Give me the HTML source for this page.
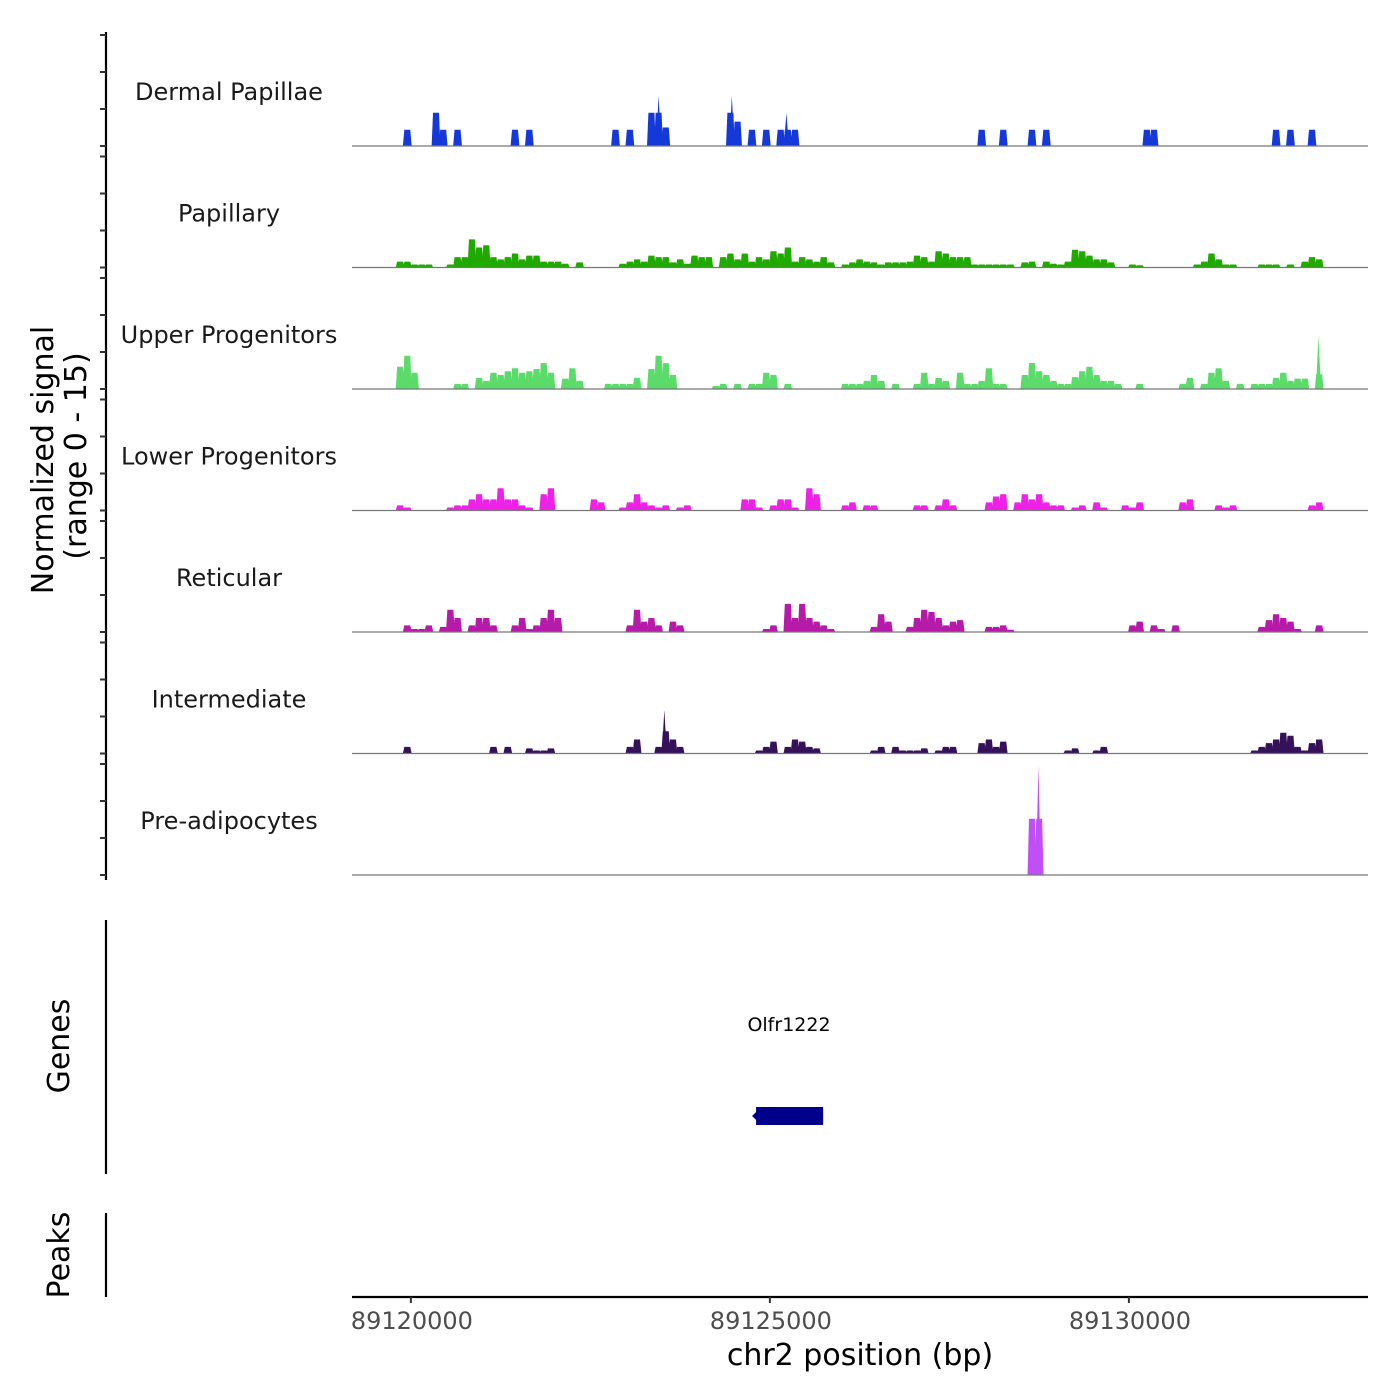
<!DOCTYPE html>
<html><head><meta charset="utf-8">
<style>
html,body{margin:0;padding:0;background:#fff;}
svg{display:block;font-family:"DejaVu Sans","Liberation Sans",sans-serif;}
</style></head>
<body>
<svg id="chart" width="1400" height="1400" viewBox="0 0 1400 1400" xmlns="http://www.w3.org/2000/svg">
<rect x="0" y="0" width="1400" height="1400" fill="#fff"/>
<g id="tracks"></g>
<g id="yaxis"></g>
<text transform="translate(53,460) rotate(-90)" text-anchor="middle" font-size="30" fill="#000">Normalized signal</text>
<text transform="translate(86,456) rotate(-90)" text-anchor="middle" font-size="30" fill="#000">(range 0 - 15)</text>
<line x1="106" y1="920" x2="106" y2="1174" stroke="#000" stroke-width="2.2"/>
<text transform="translate(69,1046) rotate(-90)" text-anchor="middle" font-size="30" fill="#000">Genes</text>
<line x1="106" y1="1213" x2="106" y2="1297" stroke="#000" stroke-width="2.2"/>
<text transform="translate(69,1255) rotate(-90)" text-anchor="middle" font-size="30" fill="#000">Peaks</text>
<g id="genes"></g>
<g id="xaxis"></g>
<text x="860" y="1365" text-anchor="middle" font-size="30" fill="#000">chr2 position (bp)</text>
</svg>
<script>
const NS = "http://www.w3.org/2000/svg";
const trackNames = ["Dermal Papillae","Papillary","Upper Progenitors","Lower Progenitors","Reticular","Intermediate","Pre-adipocytes"];
const trackColors = ["#1539d9","#20aa00","#5bdc6a","#ee22e6","#b51aa8","#35115a","#c050f5"];
const binSize = 100;
// [bin start bp, signal value]
const dermalPapillae = [[89119900,2.2],[89120300,4.5],[89120400,2.2],[89120600,2.2],[89121400,2.2],[89121600,2.2],[89122800,2.2],[89123000,2.2],[89123300,4.5],[89123400,4.5],[89123500,2.5],[89124400,4.5],[89124500,3.3],[89124700,2.2],[89124900,2.2],[89125100,2.2],[89125200,2.2],[89125300,2.2],[89127900,2.2],[89128200,2.2],[89128600,2.2],[89128800,2.2],[89130200,2.2],[89130300,2.2],[89132000,2.2],[89132200,2.2],[89132500,2.2]];
const papillary = [[89119800,0.8],[89119900,0.8],[89120000,0.4],[89120100,0.4],[89120200,0.4],[89120500,0.4],[89120600,1.4],[89120700,1.4],[89120800,3.8],[89120900,2.7],[89121000,3.0],[89121100,1.4],[89121200,1.1],[89121300,1.4],[89121400,1.9],[89121500,1.1],[89121600,1.6],[89121700,1.6],[89121800,0.8],[89121900,0.8],[89122000,0.8],[89122100,0.5],[89122300,0.7],[89122900,0.5],[89123000,0.8],[89123100,1.1],[89123200,0.8],[89123300,1.6],[89123400,1.4],[89123500,1.4],[89123600,0.7],[89123700,1.1],[89123800,0.5],[89123900,1.6],[89124000,1.4],[89124100,1.4],[89124300,1.4],[89124400,1.9],[89124500,1.1],[89124600,1.9],[89124700,0.8],[89124800,1.4],[89124900,1.1],[89125000,2.2],[89125100,1.9],[89125200,2.7],[89125300,0.8],[89125400,1.4],[89125500,1.1],[89125600,0.8],[89125700,1.4],[89125800,0.7],[89126000,0.4],[89126100,0.7],[89126200,1.1],[89126300,0.8],[89126400,0.7],[89126500,0.4],[89126600,0.7],[89126700,0.7],[89126800,0.7],[89126900,0.8],[89127000,1.6],[89127100,1.4],[89127200,0.8],[89127300,2.2],[89127400,1.9],[89127500,1.4],[89127600,1.4],[89127700,1.4],[89127800,0.4],[89127900,0.4],[89128000,0.4],[89128100,0.4],[89128200,0.4],[89128300,0.4],[89128500,0.7],[89128600,0.8],[89128800,0.8],[89128900,0.5],[89129000,0.4],[89129100,0.8],[89129200,2.4],[89129300,2.2],[89129400,1.6],[89129500,1.1],[89129600,1.1],[89129700,0.7],[89130000,0.4],[89130100,0.3],[89130900,0.4],[89131000,0.8],[89131100,1.9],[89131200,1.1],[89131300,0.4],[89131400,0.4],[89131800,0.4],[89131900,0.4],[89132000,0.4],[89132200,0.4],[89132400,0.8],[89132500,1.4],[89132600,1.1]];
const upperProgenitors = [[89119800,3.0],[89119900,4.5],[89120000,2.2],[89120600,0.7],[89120700,0.7],[89120900,1.5],[89121000,1.1],[89121100,2.2],[89121200,1.9],[89121300,2.4],[89121400,2.8],[89121500,2.2],[89121600,2.4],[89121700,2.7],[89121800,3.5],[89121900,2.2],[89122100,1.4],[89122200,2.8],[89122300,1.1],[89122700,0.7],[89122800,0.7],[89122900,0.7],[89123000,0.7],[89123100,1.5],[89123300,2.7],[89123400,4.5],[89123500,3.5],[89123600,1.9],[89124200,0.4],[89124300,0.7],[89124500,0.7],[89124700,0.7],[89124800,0.7],[89124900,2.2],[89125000,1.9],[89125200,0.7],[89126000,0.7],[89126100,0.7],[89126200,0.7],[89126300,1.1],[89126400,1.9],[89126500,1.1],[89126700,0.7],[89127000,0.7],[89127100,2.2],[89127200,0.7],[89127300,1.5],[89127400,1.1],[89127600,2.2],[89127700,0.7],[89127800,0.7],[89127900,1.1],[89128000,2.8],[89128100,0.7],[89128200,0.7],[89128500,1.9],[89128600,3.5],[89128700,2.4],[89128800,1.9],[89128900,1.1],[89129000,0.7],[89129100,0.7],[89129200,1.6],[89129300,2.4],[89129400,3.0],[89129500,1.9],[89129600,1.1],[89129700,1.1],[89129800,0.7],[89130100,0.7],[89130700,0.7],[89130800,1.5],[89131000,0.7],[89131100,2.2],[89131200,2.8],[89131300,1.1],[89131500,0.7],[89131700,0.7],[89131800,0.7],[89131900,0.7],[89132000,1.5],[89132100,2.2],[89132200,1.1],[89132300,1.4],[89132400,1.4],[89132600,2.0]];
const lowerProgenitors = [[89119800,0.7],[89119900,0.4],[89120500,0.4],[89120600,0.7],[89120700,0.7],[89120800,1.5],[89120900,2.2],[89121000,1.5],[89121100,1.5],[89121200,3.0],[89121300,1.5],[89121400,1.5],[89121500,0.7],[89121600,0.4],[89121800,2.2],[89121900,3.0],[89122500,1.5],[89122600,1.1],[89122900,0.4],[89123000,1.1],[89123100,2.2],[89123200,1.1],[89123300,0.7],[89123400,0.4],[89123500,0.7],[89123700,0.4],[89123800,0.7],[89124600,1.5],[89124700,1.5],[89124800,0.4],[89125000,0.7],[89125100,1.5],[89125200,1.5],[89125300,0.4],[89125500,3.0],[89125600,2.2],[89126000,0.7],[89126100,1.1],[89126300,0.7],[89126400,0.7],[89127000,0.7],[89127100,0.7],[89127300,0.7],[89127400,1.5],[89127500,0.7],[89128000,1.1],[89128100,1.9],[89128200,2.2],[89128400,1.1],[89128500,2.2],[89128600,1.5],[89128700,2.2],[89128800,1.1],[89128900,0.7],[89129000,0.7],[89129200,0.4],[89129300,0.7],[89129500,1.1],[89129600,0.4],[89129900,0.7],[89130000,0.4],[89130100,1.1],[89130700,1.1],[89130800,1.5],[89131200,0.7],[89131300,0.4],[89131400,0.7],[89132500,0.7],[89132600,1.1]];
const reticular = [[89119900,0.9],[89120000,0.4],[89120100,0.4],[89120200,0.9],[89120400,0.7],[89120500,3.0],[89120600,1.9],[89120800,0.9],[89120900,1.9],[89121000,1.9],[89121100,0.9],[89121400,0.9],[89121500,1.9],[89121600,0.4],[89121700,0.9],[89121800,1.9],[89121900,3.0],[89122000,1.9],[89123000,0.9],[89123100,3.0],[89123200,1.4],[89123300,1.9],[89123400,0.9],[89123600,1.4],[89123700,0.9],[89124900,0.4],[89125000,0.9],[89125200,3.8],[89125300,1.9],[89125400,3.8],[89125500,1.9],[89125600,1.4],[89125700,0.9],[89125800,0.4],[89126400,0.7],[89126500,2.4],[89126600,1.4],[89126900,0.7],[89127000,1.9],[89127100,3.0],[89127200,2.7],[89127300,1.9],[89127400,0.9],[89127500,1.4],[89127600,1.6],[89128000,0.7],[89128100,0.7],[89128200,0.9],[89128300,0.3],[89130000,0.9],[89130100,1.4],[89130300,0.9],[89130400,0.4],[89130600,0.9],[89131800,0.7],[89131900,1.6],[89132000,2.4],[89132100,1.9],[89132200,1.4],[89132300,0.4],[89132600,0.9]];
const intermediate = [[89119900,0.9],[89121100,0.9],[89121300,0.9],[89121600,0.7],[89121700,0.4],[89121800,0.4],[89121900,0.7],[89123000,0.9],[89123100,1.9],[89123400,0.9],[89123500,3.0],[89123600,1.9],[89123700,0.9],[89124800,0.4],[89124900,0.9],[89125000,1.6],[89125200,0.9],[89125300,1.9],[89125400,1.6],[89125500,0.9],[89125600,0.7],[89126400,0.4],[89126500,0.9],[89126700,0.9],[89126800,0.4],[89126900,0.4],[89127000,0.4],[89127100,0.7],[89127300,0.4],[89127400,0.9],[89127500,0.9],[89127900,1.4],[89128000,1.9],[89128100,0.9],[89128200,1.6],[89129100,0.4],[89129200,0.7],[89129500,0.4],[89129600,0.9],[89131700,0.4],[89131800,0.9],[89131900,1.4],[89132000,1.9],[89132100,2.8],[89132200,2.4],[89132300,0.9],[89132400,0.4],[89132500,1.4],[89132600,1.9]];
const preAdipocytes = [[89128600,7.6],[89128700,7.6]];
const trackData = [dermalPapillae,papillary,upperProgenitors,lowerProgenitors,reticular,intermediate,preAdipocytes];
// narrow spikes: [track index, center bp, signal value]
const spikeTrack = [0,0,0,5,2,6];
const spikeBp = [89123450,89124470,89125230,89123530,89132640,89128740];
const spikeVal = [6.8,6.8,4.5,5.9,7.2,14.8];
const xTicks = [89120000,89125000,89130000];
const yTickValues = [0,5,10,15];
const geneName = "Olfr1222";
const geneStart = 89125000-220;
const geneEnd = 89125700;

const xDomain = [89119180, 89133330];
const xRange = [352, 1368];
function xScale(bp){ return xRange[0] + (bp - xDomain[0]) * (xRange[1]-xRange[0]) / (xDomain[1]-xDomain[0]); }
const trackStep = 121.5, firstBase = 146, unitPx = 7.4;
function baseY(i){ return firstBase + i*trackStep; }
function yScale(i, v){ return baseY(i) - v*unitPx; }

const tracksG = document.getElementById('tracks');
const trackGroups = [];
trackData.forEach((series, i) => {
  const g = document.createElementNS(NS,'g');
  
  
  const lab = document.createElementNS(NS,'text');
  
  
  lab.setAttribute('x', 229); lab.setAttribute('y', baseY(i)-46);
  lab.setAttribute('text-anchor','middle'); lab.setAttribute('font-size','24'); lab.setAttribute('fill','#1a1a1a');
  lab.textContent = trackNames[i];
  g.appendChild(lab);
  series.forEach(([bp, v]) => {
    const x0 = xScale(bp), x1 = xScale(bp+binSize), y0 = baseY(i), y1 = yScale(i, v);
    const p = document.createElementNS(NS,'polygon');
    
    
    p.setAttribute('points', `${x0-0.8},${y0} ${x0+0.6},${y1} ${x1-0.6},${y1} ${x1+0.8},${y0}`);
    p.setAttribute('fill', trackColors[i]);
    g.appendChild(p);
  });
  trackGroups.push(g);
  tracksG.appendChild(g);
});
spikeBp.forEach((bp, k) => {
  const i = spikeTrack[k];
  const x = xScale(bp), y0 = baseY(i), y1 = yScale(i, spikeVal[k]);
  const p = document.createElementNS(NS,'polygon');
  
  
  p.setAttribute('points', `${x-2.5},${y0} ${x},${y1} ${x+2.5},${y0}`);
  p.setAttribute('fill', trackColors[i]);
  trackGroups[i].appendChild(p);
});
trackData.forEach((series, i) => {
  const bl = document.createElementNS(NS,'line');
  
  
  bl.setAttribute('x1', 352); bl.setAttribute('x2', 1368);
  bl.setAttribute('y1', baseY(i)); bl.setAttribute('y2', baseY(i));
  bl.setAttribute('stroke', '#777'); bl.setAttribute('stroke-width', '1.2');
  trackGroups[i].appendChild(bl);
});

const yG = document.getElementById('yaxis');
const yl = document.createElementNS(NS,'line');


yl.setAttribute('x1',106); yl.setAttribute('x2',106); yl.setAttribute('y1',32); yl.setAttribute('y2',880);
yl.setAttribute('stroke','#000'); yl.setAttribute('stroke-width','2.2');
yG.appendChild(yl);
for (let i=0;i<trackData.length;i++){
  yTickValues.forEach(v => {
    const t = document.createElementNS(NS,'line');
    
    
    const y = yScale(i, v);
    t.setAttribute('x1',100); t.setAttribute('x2',106); t.setAttribute('y1',y); t.setAttribute('y2',y);
    t.setAttribute('stroke','#333'); t.setAttribute('stroke-width','2');
    yG.appendChild(t);
  });
}

const gG = document.getElementById('genes');
const gl = document.createElementNS(NS,'text');


gl.setAttribute('x', 789); gl.setAttribute('y', 1031);
gl.setAttribute('text-anchor','middle'); gl.setAttribute('font-size','19'); gl.setAttribute('fill','#000');
gl.textContent = geneName;
gG.appendChild(gl);
const gr = document.createElementNS(NS,'rect');


gr.setAttribute('x', xScale(geneStart)+2); gr.setAttribute('y', 1107);
gr.setAttribute('width', xScale(geneEnd)-xScale(geneStart)+1); gr.setAttribute('height', 18);
gr.setAttribute('fill','#00008b');
gG.appendChild(gr);
const ga = document.createElementNS(NS,'polygon');


const ax = xScale(geneStart);
ga.setAttribute('points', `${ax-2},1116 ${ax+3},1111 ${ax+3},1121`);
ga.setAttribute('fill','#00008b');
gG.appendChild(ga);

const xG = document.getElementById('xaxis');
const xl = document.createElementNS(NS,'line');


xl.setAttribute('x1',352); xl.setAttribute('x2',1368); xl.setAttribute('y1',1297); xl.setAttribute('y2',1297);
xl.setAttribute('stroke','#000'); xl.setAttribute('stroke-width','2.2');
xG.appendChild(xl);
xTicks.forEach(v => {
  const x = xScale(v);
  const t = document.createElementNS(NS,'line');
  
  
  t.setAttribute('x1',x); t.setAttribute('x2',x); t.setAttribute('y1',1297); t.setAttribute('y2',1303);
  t.setAttribute('stroke','#333'); t.setAttribute('stroke-width','2');
  xG.appendChild(t);
  const l = document.createElementNS(NS,'text');
  
  
  l.setAttribute('x', x+1); l.setAttribute('y', 1329);
  l.setAttribute('text-anchor','middle'); l.setAttribute('font-size','24'); l.setAttribute('fill','#4d4d4d');
  l.textContent = String(v);
  xG.appendChild(l);
});
</script>
</body></html>
